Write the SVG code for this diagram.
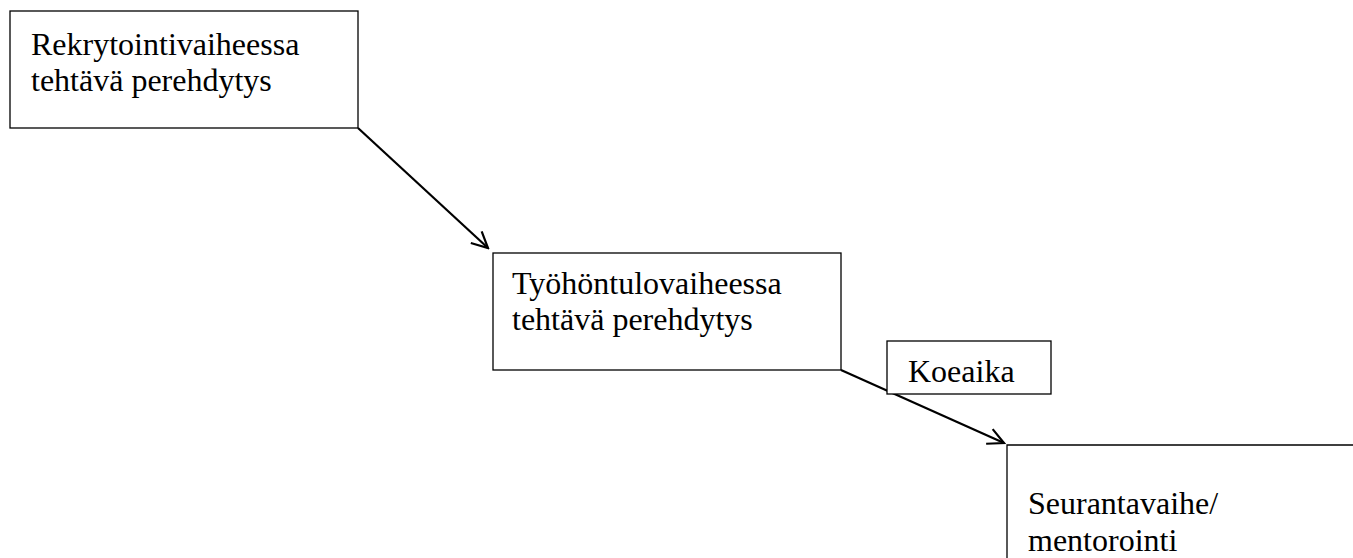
<svg xmlns="http://www.w3.org/2000/svg" width="1353" height="558" viewBox="0 0 1353 558">
<style>
.box{fill:#fff;stroke:#000;stroke-width:1.3}
.t{font-family:"Liberation Serif","Times New Roman",serif;font-size:32px;fill:#000}
.c{fill:none;stroke:#000;stroke-width:2.2}
</style>
<defs>
<marker id="ah" viewBox="0 0 20 20" refX="18" refY="10" markerWidth="20" markerHeight="20" markerUnits="userSpaceOnUse" orient="auto">
<path d="M2,2 L18,10 L2,18" fill="none" stroke="#000" stroke-width="2.2"/>
</marker>
</defs>
<rect width="1353" height="558" fill="#fff"/>
<g id="connectors">
<line class="c" x1="358" y1="128" x2="488" y2="248" marker-end="url(#ah)"/>
<line class="c" x1="841" y1="370" x2="1004" y2="443" marker-end="url(#ah)"/>
</g>
<g id="n1">
<rect class="box" x="10" y="11" width="348" height="117"/>
<text class="t" x="31" y="55">Rekrytointivaiheessa</text>
<text class="t" x="31" y="91">tehtävä perehdytys</text>
</g>
<g id="n2">
<rect class="box" x="493" y="253" width="348" height="117"/>
<text class="t" x="512" y="294">Työhöntulovaiheessa</text>
<text class="t" x="512" y="330">tehtävä perehdytys</text>
</g>
<g id="n3">
<rect class="box" x="887" y="341" width="164" height="53"/>
<text class="t" x="908" y="382">Koeaika</text>
</g>
<g id="n4">
<path class="box" d="M1007,558 V445 H1353" fill="none"/>
<text class="t" x="1028" y="514">Seurantavaihe/</text>
<text class="t" x="1028" y="551">mentorointi</text>
</g>
</svg>
